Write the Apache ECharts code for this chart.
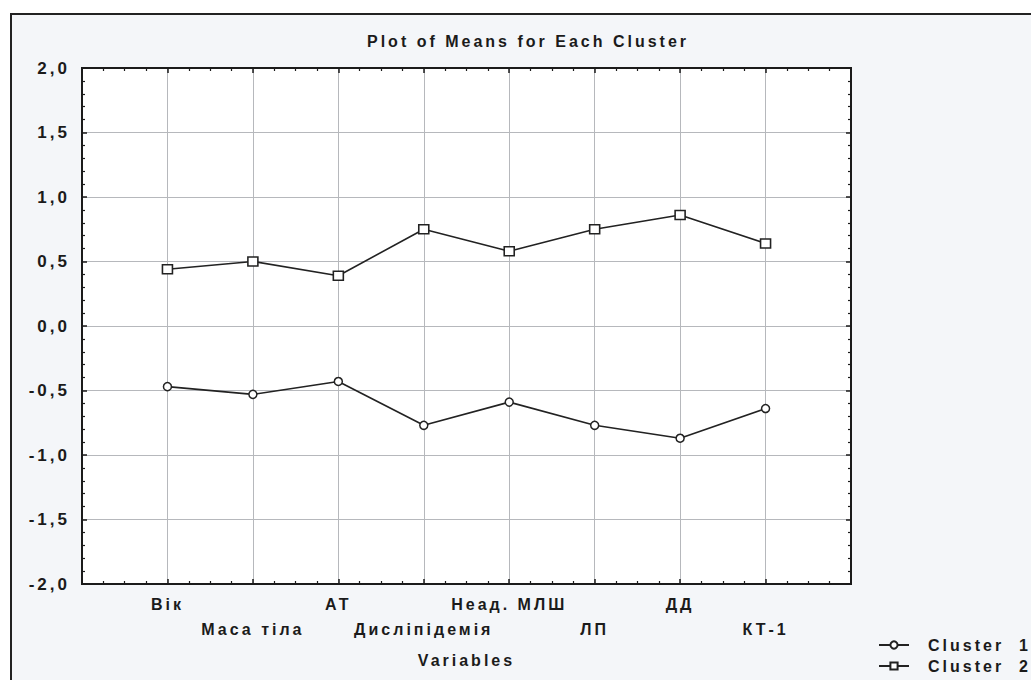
<!DOCTYPE html>
<html>
<head>
<meta charset="utf-8">
<script src="https://cdn.jsdelivr.net/npm/echarts@6/dist/echarts.min.js"></script>
<style>
  html, body { margin: 0; padding: 0; background: #ffffff; }
  #chart { width: 1031px; height: 680px; }
  /* wide, typewriter-like spacing of the statistics package fonts */
  #chart svg text { letter-spacing: 3px; }
</style>
</head>
<body>
<div id="chart"></div>
<script>
// Variables measured for each cluster (standardised means)
const variables = ['Вік', 'Маса тіла', 'АТ', 'Дисліпідемія', 'Неад. МЛШ', 'ЛП', 'ДД', 'КТ-1'];
const cluster1 = [-0.47, -0.53, -0.43, -0.77, -0.59, -0.77, -0.87, -0.64];
const cluster2 = [0.44, 0.50, 0.39, 0.75, 0.58, 0.75, 0.86, 0.64];
const yTicks = [-2.0, -1.5, -1.0, -0.5, 0.0, 0.5, 1.0, 1.5, 2.0];

const FONT = '"Liberation Sans", Arial, sans-serif';
const INK = '#1b1b1b';

// variable i sits at x = i + 1 on a 0..9 value axis
const toPoints = vals => vals.map((v, i) => [i + 1, v]);

const chart = echarts.init(document.getElementById('chart'), null, { renderer: 'svg' });

const tickInside = { show: true, inside: true, length: 5, lineStyle: { color: INK, width: 1.5 } };
const xMinor = { show: true, splitNumber: 4, length: 3, lineStyle: { color: INK, width: 1.2 } };
const yMinor = { show: true, splitNumber: 5, length: 3, lineStyle: { color: INK, width: 1.2 } };
const frameLine = { show: true, onZero: false, lineStyle: { color: INK, width: 2 } };
const gridLine = { show: true, lineStyle: { color: '#b6b8bc', width: 1 } };

const legendText = {
  fontFamily: FONT, fontWeight: 'bold', fontSize: 16, color: INK,
  padding: [0, 0, 0, 14]
};

chart.setOption({
  backgroundColor: '#ffffff',
  animation: false,
  graphic: [
    {
      type: 'rect',
      z: -10,
      shape: { x: 11, y: 14, width: 1040, height: 700 },
      style: { fill: '#f4f6f9', stroke: '#222', lineWidth: 2 }
    },
    {
      type: 'text',
      x: 528, y: 41,
      style: {
        text: 'Plot of Means for Each Cluster',
        font: 'bold 16px ' + FONT,
        fill: INK,
        textAlign: 'center',
        textVerticalAlign: 'middle'
      }
    }
  ],
  grid: {
    left: 82, top: 68, right: 180, bottom: 96,
    show: true,
    backgroundColor: '#ffffff',
    borderColor: INK,
    borderWidth: 2
  },
  legend: [
    {
      left: 873, top: 632,
      itemWidth: 30, itemHeight: 9,
      textStyle: legendText,
      data: ['Cluster  1']
    },
    {
      left: 873, top: 653,
      itemWidth: 30, itemHeight: 9,
      textStyle: legendText,
      data: ['Cluster  2']
    }
  ],
  xAxis: [
    {
      type: 'value',
      position: 'bottom',
      min: 0, max: 9, interval: 1,
      axisLine: frameLine,
      axisTick: tickInside,
      minorTick: xMinor,
      splitLine: gridLine,
      axisLabel: {
        margin: 8,
        fontFamily: FONT, fontWeight: 'bold', fontSize: 16, color: INK,
        lineHeight: 25,
        verticalAlign: 'top',
        formatter: v => {
          const name = variables[v - 1];
          if (!name) return '';
          // every second variable is dropped to a second row
          return (v % 2 === 0) ? '\n' + name : name;
        }
      },
      name: 'Variables',
      nameLocation: 'middle',
      nameGap: 68,
      nameTextStyle: { fontFamily: FONT, fontWeight: 'bold', fontSize: 16, color: INK, verticalAlign: 'top' }
    },
    {
      type: 'value',
      position: 'top',
      min: 0, max: 9, interval: 1,
      axisLine: frameLine,
      axisTick: tickInside,
      minorTick: xMinor,
      splitLine: { show: false },
      axisLabel: { show: false }
    }
  ],
  yAxis: [
    {
      type: 'value',
      position: 'left',
      min: yTicks[0], max: yTicks[yTicks.length - 1], interval: 0.5,
      axisLine: frameLine,
      axisTick: tickInside,
      minorTick: yMinor,
      splitLine: gridLine,
      axisLabel: {
        margin: 12,
        fontFamily: FONT, fontWeight: 'bold', fontSize: 17, color: INK,
        formatter: v => v.toFixed(1).replace('.', ',')
      }
    },
    {
      type: 'value',
      position: 'right',
      min: yTicks[0], max: yTicks[yTicks.length - 1], interval: 0.5,
      axisLine: frameLine,
      axisTick: tickInside,
      minorTick: yMinor,
      splitLine: { show: false },
      axisLabel: { show: false }
    }
  ],
  series: [
    {
      name: 'Cluster  1',
      type: 'line',
      data: toPoints(cluster1),
      symbol: 'circle',
      symbolSize: 8,
      lineStyle: { color: '#222', width: 1.6 },
      itemStyle: { color: '#ffffff', borderColor: '#222', borderWidth: 1.5 },
      z: 5
    },
    {
      name: 'Cluster  2',
      type: 'line',
      data: toPoints(cluster2),
      symbol: 'rect',
      symbolSize: [10, 9],
      lineStyle: { color: '#222', width: 1.6 },
      itemStyle: { color: '#ffffff', borderColor: '#222', borderWidth: 1.5 },
      z: 5
    }
  ]
});
</script>
</body>
</html>
